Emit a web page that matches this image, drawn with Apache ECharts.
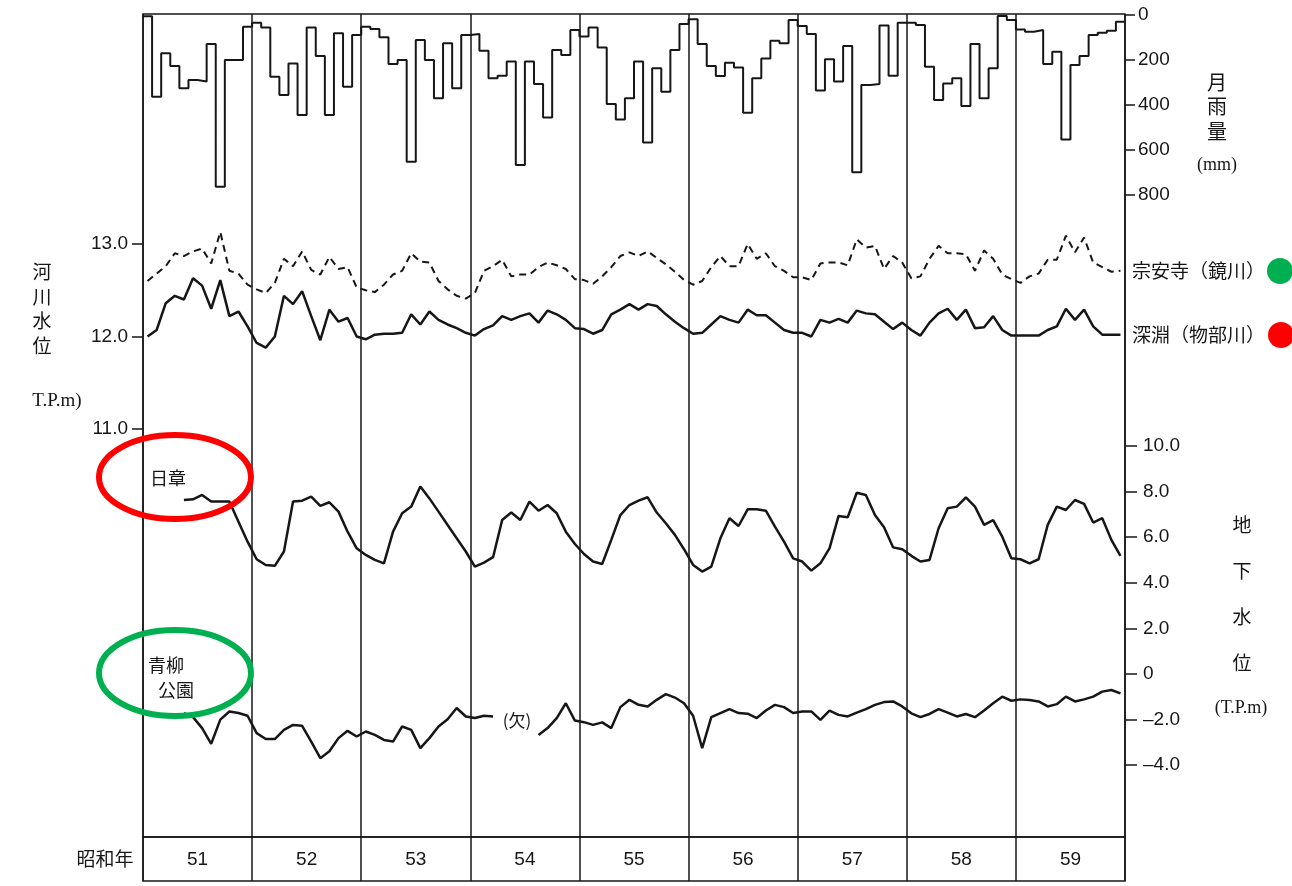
<!DOCTYPE html>
<html><head><meta charset="utf-8">
<script src="https://cdn.jsdelivr.net/npm/echarts@6/dist/echarts.min.js"></script>
<style>html,body{margin:0;padding:0;background:#fff}#c{width:1292px;height:886px}</style>
</head><body><div id="c"></div>
<script>
// 昭和年 (years), monthly data Jan..Dec per year
const years = ['51','52','53','54','55','56','57','58','59'];
// 月雨量 (mm)
const rainfall = [
  5,363,170,227,326,289,296,129,763,200,200,52,
  34,55,274,356,215,444,55,182,444,81,319,89,
  52,62,99,218,200,652,111,200,370,126,326,89,
  84,159,281,270,207,667,207,307,455,156,178,67,
  96,55,144,396,464,370,207,567,237,341,156,40,
  19,129,227,271,212,233,434,281,193,114,126,22,
  49,84,336,197,296,138,699,311,307,47,270,34,
  34,44,230,378,304,281,404,129,370,237,4,22,
  64,74,67,218,163,553,222,182,89,79,70,30
];
// 河川水位 宗安寺(鏡川) T.P.m
const soanji = [
  12.60,12.68,12.76,12.90,12.87,12.92,12.95,12.79,13.13,12.71,12.68,12.56,
  12.51,12.47,12.58,12.84,12.76,12.92,12.72,12.67,12.86,12.73,12.75,12.53,
  12.50,12.48,12.56,12.67,12.71,12.90,12.81,12.80,12.60,12.51,12.44,12.41,
  12.47,12.71,12.76,12.83,12.65,12.67,12.67,12.75,12.80,12.77,12.73,12.62,
  12.61,12.57,12.65,12.75,12.87,12.91,12.87,12.92,12.85,12.78,12.70,12.61,
  12.56,12.60,12.75,12.87,12.76,12.76,13.00,12.84,12.90,12.76,12.71,12.64,
  12.64,12.61,12.79,12.80,12.80,12.77,13.05,12.96,12.98,12.73,12.87,12.80,
  12.63,12.65,12.84,12.98,12.90,12.90,12.89,12.71,12.93,12.84,12.67,12.62,
  12.58,12.65,12.68,12.83,12.83,13.09,12.91,13.07,12.80,12.75,12.70,12.71
];
// 河川水位 深淵(物部川) T.P.m
const fukabuchi = [
  12.00,12.07,12.36,12.44,12.40,12.63,12.55,12.30,12.61,12.22,12.27,12.11,
  11.93,11.88,12.00,12.44,12.35,12.49,12.22,11.96,12.29,12.16,12.20,12.00,
  11.97,12.02,12.03,12.03,12.04,12.24,12.13,12.27,12.18,12.13,12.09,12.04,
  12.01,12.08,12.12,12.22,12.18,12.22,12.25,12.15,12.28,12.24,12.18,12.09,
  12.08,12.03,12.07,12.24,12.29,12.35,12.29,12.35,12.33,12.24,12.16,12.09,
  12.03,12.04,12.13,12.22,12.18,12.15,12.29,12.23,12.23,12.15,12.07,12.04,
  12.04,12.00,12.18,12.15,12.19,12.15,12.28,12.25,12.24,12.16,12.08,12.15,
  12.07,12.01,12.15,12.25,12.30,12.18,12.29,12.09,12.10,12.22,12.07,12.01,
  12.01,12.01,12.01,12.07,12.11,12.30,12.18,12.29,12.11,12.02,12.02,12.02
];
// 地下水位 日章 T.P.m
const nissho = [
  null,null,null,null,7.63,7.66,7.85,7.56,7.56,7.56,6.68,5.80,
  5.03,4.78,4.74,5.37,7.56,7.60,7.78,7.37,7.53,7.12,6.24,5.51,
  5.22,5.00,4.85,6.24,7.05,7.34,8.22,7.70,7.12,6.53,5.95,5.37,
  4.71,4.88,5.12,6.75,7.08,6.75,7.56,7.16,7.41,7.05,6.24,5.70,
  5.26,4.93,4.82,5.88,6.97,7.41,7.60,7.75,7.08,6.61,6.10,5.47,
  4.78,4.49,4.71,5.95,6.83,6.49,7.22,7.22,7.16,6.46,5.80,5.07,
  4.93,4.53,4.85,5.51,6.93,6.87,7.95,7.85,6.97,6.43,5.55,5.47,
  5.18,4.93,5.00,6.39,7.27,7.34,7.75,7.34,6.54,6.75,6.02,5.07,
  5.03,4.85,5.03,6.54,7.34,7.19,7.63,7.46,6.64,6.83,5.88,5.18
];
// 地下水位 青柳公園 T.P.m (null = 欠測)
const aoyagi = [
  null,null,null,null,-1.72,-1.90,-2.38,-3.07,-2.01,-1.65,-1.72,-1.84,
  -2.60,-2.86,-2.86,-2.46,-2.24,-2.28,-2.97,-3.70,-3.40,-2.82,-2.50,-2.75,
  -2.53,-2.68,-2.90,-2.97,-2.31,-2.46,-3.26,-2.82,-2.31,-1.99,-1.50,-1.87,
  -1.94,-1.84,-1.87,null,null,null,null,-2.68,-2.38,-1.94,-1.29,-2.05,
  -2.12,-2.24,-2.13,-2.38,-1.46,-1.14,-1.36,-1.43,-1.14,-0.89,-1.04,-1.29,
  -1.84,-3.26,-1.90,-1.72,-1.55,-1.72,-1.75,-1.94,-1.61,-1.36,-1.46,-1.72,
  -1.65,-1.65,-2.02,-1.61,-1.80,-1.87,-1.70,-1.55,-1.36,-1.24,-1.21,-1.43,
  -1.73,-1.90,-1.76,-1.55,-1.70,-1.87,-1.76,-1.90,-1.61,-1.29,-1.00,-1.18,
  -1.12,-1.15,-1.21,-1.43,-1.33,-1.00,-1.21,-1.12,-1.00,-0.78,-0.71,-0.86
];

const INK = '#161616';
const NUM = '"Liberation Sans", Arial, sans-serif';
const JP = '"Noto Sans CJK JP", sans-serif';
const SERIF = '"Liberation Serif", "DejaVu Serif", serif';
const nMonths = years.length * 12;
const L = 143, R = 167;

const rainPts = rainfall.map((v, i) => [i, v]).concat([[nMonths, rainfall[nMonths - 1]]]);
const mid = arr => arr.map((v, i) => [i + 0.5, v]);

function hx(gi) {
  return { type: 'value', gridIndex: gi, min: 0, max: nMonths, show: false };
}

const chart = echarts.init(document.getElementById('c'), null, { renderer: 'canvas' });
chart.setOption({
  backgroundColor: '#fff',
  animation: false,
  grid: [
    { left: L, right: R, top: 14, height: 823, show: true, borderColor: INK, borderWidth: 1.5, outerBoundsMode: 'none' },
    { left: L, right: R, top: 837, height: 44, show: true, borderColor: INK, borderWidth: 1.5, outerBoundsMode: 'none' },
    { left: L, right: R, top: 15, height: 180, outerBoundsMode: 'none' },
    { left: L, right: R, top: 244, height: 185, outerBoundsMode: 'none' },
    { left: L, right: R, top: 446, height: 319, outerBoundsMode: 'none' }
  ],
  xAxis: [
    { type: 'value', gridIndex: 0, min: 0, max: nMonths, interval: 12,
      axisLine: { show: false }, axisTick: { show: false }, axisLabel: { show: false },
      splitLine: { show: true, lineStyle: { color: INK, width: 1.5 } } },
    { type: 'category', gridIndex: 1, data: years, boundaryGap: true,
      axisLine: { show: false }, axisTick: { show: false },
      axisLabel: { inside: true, margin: 12, interval: 0, color: INK, fontSize: 19, fontFamily: NUM },
      splitLine: { show: true, interval: 0, lineStyle: { color: INK, width: 1.5 } } },
    hx(2), hx(3), hx(4)
  ],
  yAxis: [
    { type: 'value', gridIndex: 0, show: false },
    { type: 'value', gridIndex: 1, show: false },
    { type: 'value', gridIndex: 2, position: 'right', inverse: true, min: 0, max: 800, interval: 200,
      axisLine: { show: false, onZero: false },
      axisTick: { show: true, length: 10, lineStyle: { color: INK, width: 1.5 } },
      axisLabel: { margin: 13, color: INK, fontSize: 19, fontFamily: NUM },
      splitLine: { show: false } },
    { type: 'value', gridIndex: 3, position: 'left', min: 11, max: 13, interval: 1,
      axisLine: { show: false, onZero: false },
      axisTick: { show: true, length: 11, lineStyle: { color: INK, width: 1.5 } },
      axisLabel: { margin: 15, color: INK, fontSize: 19, fontFamily: NUM, formatter: v => v.toFixed(1) },
      splitLine: { show: false } },
    { type: 'value', gridIndex: 4, position: 'right', min: -4, max: 10, interval: 2,
      axisLine: { show: false, onZero: false },
      axisTick: { show: true, length: 12, lineStyle: { color: INK, width: 1.5 } },
      axisLabel: { margin: 18, color: INK, fontSize: 19, fontFamily: NUM,
        formatter: v => v === 0 ? '0' : (v < 0 ? '\u2013' + Math.abs(v).toFixed(1) : v.toFixed(1)) },
      splitLine: { show: false } }
  ],
  series: [
    { name: '月雨量', type: 'line', xAxisIndex: 2, yAxisIndex: 2, step: 'end', data: rainPts,
      symbol: 'none', clip: false, lineStyle: { color: INK, width: 2 } },
    { name: '宗安寺(鏡川)', type: 'line', xAxisIndex: 3, yAxisIndex: 3, data: mid(soanji),
      symbol: 'none', clip: false, lineStyle: { color: INK, width: 2, type: [7, 5] } },
    { name: '深淵(物部川)', type: 'line', xAxisIndex: 3, yAxisIndex: 3, data: mid(fukabuchi),
      symbol: 'none', clip: false, lineStyle: { color: INK, width: 2.5 } },
    { name: '日章', type: 'line', xAxisIndex: 4, yAxisIndex: 4, data: mid(nissho),
      symbol: 'none', clip: false, connectNulls: false, lineStyle: { color: INK, width: 2.5 } },
    { name: '青柳公園', type: 'line', xAxisIndex: 4, yAxisIndex: 4, data: mid(aoyagi),
      symbol: 'none', clip: false, connectNulls: false, lineStyle: { color: INK, width: 2.5 } }
  ],
  graphic: [
    { type: 'text', x: 42, y: 260, style: { text: '河\n川\n水\n位', font: '19px ' + JP, fill: INK, align: 'center', verticalAlign: 'top', lineHeight: 24.5 } },
    { type: 'text', x: 57, y: 401, style: { text: 'T.P.m)', font: '19px ' + SERIF, fill: INK, align: 'center', verticalAlign: 'middle' } },
    { type: 'text', x: 1217, y: 70, style: { text: '月\n雨\n量', font: '20px ' + JP, fill: INK, align: 'center', verticalAlign: 'top', lineHeight: 24.5 } },
    { type: 'text', x: 1217, y: 165, style: { text: '(mm)', font: '18px ' + SERIF, fill: INK, align: 'center', verticalAlign: 'middle' } },
    { type: 'text', x: 1132, y: 271, style: { text: '宗安寺（鏡川）', font: '19px ' + JP, fill: INK, align: 'left', verticalAlign: 'middle' } },
    { type: 'text', x: 1132, y: 335, style: { text: '深淵（物部川）', font: '19px ' + JP, fill: INK, align: 'left', verticalAlign: 'middle' } },
    { type: 'circle', shape: { cx: 1280, cy: 271, r: 13 }, style: { fill: '#00b050' } },
    { type: 'circle', shape: { cx: 1281, cy: 335, r: 13 }, style: { fill: '#ff0000' } },
    { type: 'text', x: 1242, y: 502, style: { text: '地\n下\n水\n位', font: '19px ' + JP, fill: INK, align: 'center', verticalAlign: 'top', lineHeight: 46 } },
    { type: 'text', x: 1241, y: 708, style: { text: '(T.P.m)', font: '18px ' + SERIF, fill: INK, align: 'center', verticalAlign: 'middle' } },
    { type: 'text', x: 150, y: 478, style: { text: '日章', font: '18px ' + JP, fill: INK, align: 'left', verticalAlign: 'middle' } },
    { type: 'text', x: 148, y: 665, style: { text: '青柳', font: '18px ' + JP, fill: INK, align: 'left', verticalAlign: 'middle' } },
    { type: 'text', x: 158, y: 690, style: { text: '公園', font: '18px ' + JP, fill: INK, align: 'left', verticalAlign: 'middle' } },
    { type: 'text', x: 517, y: 721, style: { text: '(欠)', font: '17px ' + JP, fill: INK, align: 'center', verticalAlign: 'middle' } },
    { type: 'text', x: 105, y: 859, style: { text: '昭和年', font: '19px ' + JP, fill: INK, align: 'center', verticalAlign: 'middle' } },
    { type: 'ellipse', shape: { cx: 175, cy: 477, rx: 76, ry: 42 }, style: { fill: 'none', stroke: '#ff0000', lineWidth: 6 }, z: 100 },
    { type: 'ellipse', shape: { cx: 175, cy: 673, rx: 76, ry: 43 }, style: { fill: 'none', stroke: '#00b050', lineWidth: 6 }, z: 100 }
  ]
});
</script></body></html>
